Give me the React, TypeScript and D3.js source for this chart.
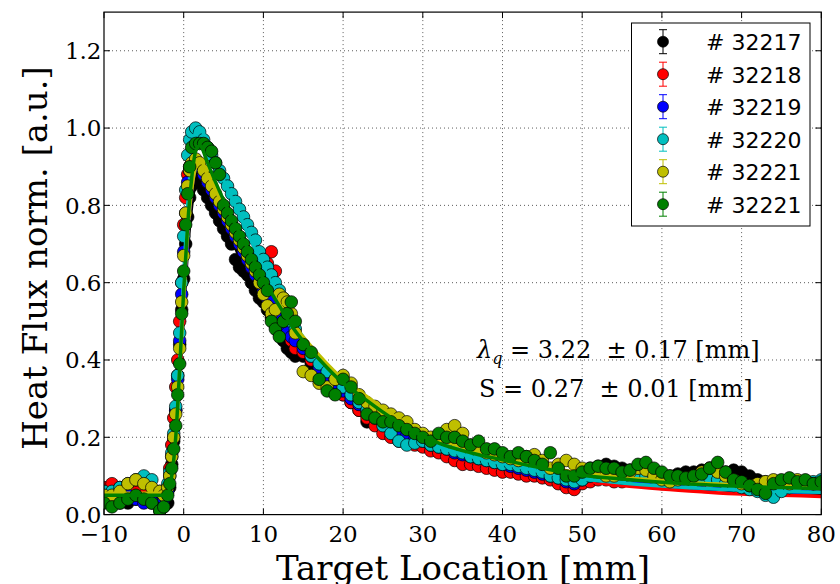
import React from 'react';
import * as d3 from 'd3';

const shotLabels = ['# 32217', '# 32218', '# 32219', '# 32220', '# 32221', '# 32221'];
const shotColors = ['#000000', '#ff0000', '#0000ff', '#00bfbf', '#bfbf00', '#008000'];

const xTicks = [-10, 0, 10, 20, 30, 40, 50, 60, 70, 80];
const yTicks = [0, 0.2, 0.4, 0.6, 0.8, 1.0, 1.2];

// measurement positions [mm]
const xs = [
  -10, -9, -8, -7, -6, -5, -4, -3,
  -2.5, -2, -1.75, -1.5, -1.25, -1, -0.75, -0.5, -0.25, 0, 0.25, 0.5, 0.75, 1,
  1.5, 2, 2.5, 3, 3.5, 4, 4.5, 5, 5.5, 6, 6.5, 7, 7.5, 8, 8.5, 9, 9.5, 10, 10.5, 11, 11.5, 12, 12.5, 13, 13.5, 14,
  15, 16, 17, 18, 19, 20, 21, 22, 23, 24, 25, 26, 27, 28, 29, 30, 31, 32, 33, 34,
  35, 36, 37, 38, 39, 40, 41, 42, 43, 44, 45, 46, 47, 48, 49, 50, 51, 52, 53, 54,
  55, 56, 57, 58, 59, 60, 61, 62, 63, 64, 65, 66, 67, 68, 69, 70, 71, 72, 73, 74,
  75, 76, 77, 78, 79, 80,
];

const y32217 = [
  0.04, 0.04, 0.03, 0.03, 0.04, 0.04, 0.03, 0.01,
  0.02, 0.03, 0.07, 0.13, 0.19, 0.27, 0.36, 0.44, 0.53, 0.61, 0.7, 0.77, 0.82, 0.85,
  0.86, 0.87, 0.84, 0.82, 0.8, 0.78, 0.76, 0.74, 0.72, 0.7, 0.66, 0.64, 0.63, 0.62, 0.6, 0.58, 0.56, 0.55, 0.53, 0.51, 0.49, 0.47, 0.45, 0.43, 0.42, 0.41,
  0.41, 0.39, 0.37, 0.35, 0.33, 0.31, 0.29, 0.27, 0.24, 0.24,
  0.23, 0.22, 0.21, 0.2, 0.195, 0.19, 0.185, 0.18, 0.175, 0.17,
  0.165, 0.16, 0.155, 0.15, 0.145, 0.14, 0.135, 0.13, 0.125, 0.12,
  0.115, 0.11, 0.1, 0.095, 0.095, 0.11, 0.12, 0.125, 0.13, 0.125,
  0.12, 0.115, 0.11, 0.11, 0.105, 0.1, 0.1, 0.105, 0.11, 0.11,
  0.115, 0.12, 0.115, 0.11, 0.115, 0.11, 0.1, 0.09, 0.085, 0.08,
  0.08, 0.085, 0.08, 0.08, 0.075, 0.075,
];

const y32218 = [
  0.07, 0.08, 0.07, 0.05, 0.06, 0.05, 0.05, 0.04,
  0.05, 0.07, 0.12, 0.18, 0.25, 0.33, 0.4, 0.5, 0.6, 0.75, 0.82, 0.88, 0.9, 0.91,
  0.9, 0.9, 0.88, 0.86, 0.84, 0.82, 0.8, 0.78, 0.76, 0.74, 0.72, 0.7, 0.68, 0.66, 0.64, 0.62, 0.6, 0.6, 0.65, 0.68, 0.63, 0.53, 0.5, 0.47, 0.45, 0.43,
  0.42, 0.4, 0.37, 0.35, 0.33, 0.31, 0.29, 0.27, 0.25, 0.23,
  0.21, 0.2, 0.19, 0.185, 0.18, 0.175, 0.165, 0.16, 0.15, 0.14,
  0.13, 0.13, 0.125, 0.12, 0.115, 0.11, 0.11, 0.105, 0.1, 0.1,
  0.095, 0.09, 0.08, 0.07, 0.065, 0.08, 0.085, 0.09, 0.09, 0.085,
  0.085, 0.09, 0.095, 0.09, 0.085, 0.08, 0.08, 0.085, 0.08, 0.08,
  0.085, 0.09, 0.085, 0.08, 0.075, 0.07, 0.07, 0.065, 0.065, 0.07,
  0.07, 0.075, 0.07, 0.07, 0.075, 0.07,
];

const y32219 = [
  0.05, 0.04, 0.04, 0.05, 0.04, 0.03, 0.04, 0.03,
  0.04, 0.06, 0.1, 0.15, 0.2, 0.27, 0.35, 0.45, 0.57, 0.68, 0.78, 0.86, 0.89, 0.91,
  0.91, 0.9, 0.88, 0.86, 0.84, 0.82, 0.8, 0.78, 0.76, 0.74, 0.72, 0.7, 0.68, 0.66, 0.64, 0.62, 0.6, 0.58, 0.56, 0.55, 0.53, 0.51, 0.49, 0.47, 0.46, 0.45,
  0.43, 0.41, 0.38, 0.36, 0.34, 0.32, 0.3, 0.285, 0.27, 0.255,
  0.24, 0.225, 0.215, 0.205, 0.195, 0.19, 0.18, 0.175, 0.17, 0.16,
  0.155, 0.15, 0.145, 0.14, 0.135, 0.13, 0.125, 0.12, 0.115, 0.11,
  0.105, 0.1, 0.095, 0.085, 0.08, 0.09, 0.1, 0.1, 0.105, 0.1,
  0.095, 0.1, 0.105, 0.1, 0.095, 0.09, 0.09, 0.09, 0.085, 0.09,
  0.09, 0.095, 0.09, 0.085, 0.08, 0.075, 0.07, 0.065, 0.06, 0.06,
  0.065, 0.07, 0.075, 0.075, 0.08, 0.08,
];

const y32220 = [
  0.06, 0.06, 0.07, 0.08, 0.09, 0.1, 0.09, 0.06,
  0.05, 0.08, 0.11, 0.16, 0.21, 0.28, 0.36, 0.47, 0.6, 0.72, 0.84, 0.93, 0.97, 0.99,
  1.0, 0.99, 0.97, 0.95, 0.93, 0.91, 0.89, 0.87, 0.85, 0.83, 0.81, 0.79, 0.77, 0.75, 0.73, 0.71, 0.68, 0.66, 0.64, 0.62, 0.6, 0.58, 0.56, 0.53, 0.5, 0.48,
  0.44, 0.41, 0.39, 0.37, 0.35, 0.33, 0.31, 0.29, 0.27, 0.25,
  0.23, 0.21, 0.19, 0.18, 0.185, 0.19, 0.18, 0.175, 0.17, 0.165,
  0.16, 0.15, 0.145, 0.14, 0.135, 0.13, 0.13, 0.125, 0.12, 0.115,
  0.11, 0.1, 0.095, 0.09, 0.085, 0.09, 0.1, 0.105, 0.1, 0.1,
  0.095, 0.1, 0.105, 0.1, 0.095, 0.09, 0.09, 0.095, 0.09, 0.085,
  0.09, 0.095, 0.09, 0.08, 0.075, 0.07, 0.065, 0.06, 0.05, 0.045,
  0.06, 0.07, 0.075, 0.08, 0.085, 0.09,
];

const y32221a = [
  0.05, 0.05, 0.06, 0.08, 0.09, 0.08, 0.07, 0.06,
  0.05, 0.07, 0.1, 0.15, 0.2, 0.26, 0.33, 0.43, 0.55, 0.67, 0.78, 0.85, 0.89, 0.91,
  0.92, 0.91, 0.89, 0.87, 0.85, 0.83, 0.81, 0.79, 0.77, 0.75, 0.73, 0.71, 0.69, 0.67, 0.65, 0.63, 0.6, 0.57, 0.54, 0.52, 0.53, 0.57, 0.56, 0.55, 0.52, 0.47,
  0.37, 0.36, 0.34, 0.33, 0.35, 0.36, 0.34, 0.31, 0.29, 0.28,
  0.27, 0.26, 0.25, 0.24, 0.22, 0.21, 0.2, 0.2, 0.22, 0.23,
  0.21, 0.18, 0.17, 0.16, 0.155, 0.15, 0.145, 0.14, 0.15, 0.155,
  0.14, 0.12, 0.13, 0.14, 0.13, 0.12, 0.115, 0.11, 0.1, 0.1,
  0.105, 0.11, 0.12, 0.115, 0.1, 0.09, 0.085, 0.09, 0.095, 0.1,
  0.11, 0.12, 0.11, 0.1, 0.09, 0.08, 0.075, 0.08, 0.085, 0.09,
  0.085, 0.08, 0.09, 0.085, 0.08, 0.08,
];

const y32221b = [
  0.03, 0.02, 0.03, 0.04, 0.05, 0.04, 0.03, 0.01,
  0.02, 0.05, 0.08, 0.12, 0.17, 0.23, 0.31, 0.39, 0.52, 0.63, 0.75, 0.83, 0.9, 0.95,
  0.96, 0.96, 0.96, 0.95, 0.94, 0.91, 0.88, 0.8, 0.78, 0.76, 0.74, 0.72, 0.7, 0.68, 0.66, 0.64, 0.62, 0.6, 0.58, 0.5, 0.48, 0.46, 0.5, 0.52, 0.55, 0.5,
  0.44, 0.42, 0.35, 0.32, 0.31, 0.35, 0.33, 0.3, 0.26, 0.25,
  0.24, 0.24, 0.23, 0.22, 0.21, 0.2, 0.19, 0.21, 0.2, 0.2,
  0.19, 0.18, 0.19, 0.17, 0.17, 0.16, 0.15, 0.16, 0.15, 0.14,
  0.13, 0.16, 0.12, 0.1, 0.1, 0.11, 0.12, 0.125, 0.12, 0.12,
  0.11, 0.115, 0.13, 0.135, 0.12, 0.11, 0.1, 0.1, 0.095, 0.1,
  0.105, 0.12, 0.135, 0.11, 0.09, 0.085, 0.075, 0.065, 0.055, 0.08,
  0.09, 0.095, 0.085, 0.09, 0.08, 0.085,
];

// fitted profiles
const fitX = [-10, -2.5, -2, -1.5, -1, -0.5, 0, 0.5, 1, 1.5, 2, 3, 4, 6, 8, 10, 12, 14, 16, 18, 20, 22, 25, 28, 32, 36, 40, 45, 50, 55, 60, 65, 70, 75, 80];
const fit32217 = [0.045, 0.045, 0.05, 0.09, 0.18, 0.34, 0.53, 0.69, 0.8, 0.86, 0.87, 0.83, 0.79, 0.71, 0.63, 0.56, 0.49, 0.44, 0.39, 0.35, 0.315, 0.285, 0.245, 0.21, 0.175, 0.15, 0.133, 0.112, 0.095, 0.083, 0.074, 0.067, 0.062, 0.058, 0.055];
const fit32218 = [0.05, 0.05, 0.055, 0.1, 0.2, 0.37, 0.56, 0.73, 0.84, 0.9, 0.91, 0.87, 0.83, 0.75, 0.67, 0.6, 0.53, 0.47, 0.415, 0.37, 0.33, 0.295, 0.252, 0.212, 0.172, 0.145, 0.127, 0.105, 0.088, 0.075, 0.066, 0.059, 0.053, 0.05, 0.047];
const fit32219 = [0.05, 0.05, 0.055, 0.1, 0.2, 0.37, 0.56, 0.72, 0.84, 0.9, 0.91, 0.87, 0.83, 0.75, 0.67, 0.595, 0.525, 0.465, 0.415, 0.37, 0.33, 0.3, 0.26, 0.22, 0.18, 0.155, 0.137, 0.115, 0.097, 0.085, 0.076, 0.069, 0.064, 0.06, 0.058];
const fit32220 = [0.05, 0.05, 0.055, 0.1, 0.21, 0.4, 0.62, 0.8, 0.93, 0.99, 1.0, 0.96, 0.91, 0.82, 0.73, 0.64, 0.56, 0.49, 0.43, 0.38, 0.335, 0.3, 0.255, 0.215, 0.175, 0.15, 0.132, 0.11, 0.093, 0.082, 0.074, 0.068, 0.063, 0.06, 0.058];
const fit32221a = [0.055, 0.055, 0.06, 0.1, 0.2, 0.37, 0.56, 0.73, 0.84, 0.9, 0.92, 0.88, 0.84, 0.76, 0.68, 0.61, 0.545, 0.485, 0.435, 0.39, 0.35, 0.32, 0.275, 0.235, 0.195, 0.168, 0.148, 0.125, 0.107, 0.096, 0.088, 0.081, 0.076, 0.072, 0.07];
const fit32221b = [0.05, 0.05, 0.055, 0.1, 0.2, 0.38, 0.58, 0.75, 0.87, 0.94, 0.955, 0.91, 0.86, 0.77, 0.69, 0.61, 0.54, 0.475, 0.425, 0.38, 0.34, 0.31, 0.265, 0.225, 0.185, 0.16, 0.142, 0.12, 0.102, 0.092, 0.084, 0.078, 0.073, 0.07, 0.067];

const seriesY = [y32217, y32218, y32219, y32220, y32221a, y32221b];
const seriesFit = [fit32217, fit32218, fit32219, fit32220, fit32221a, fit32221b];

const W = 840;
const H = 584;
const L = 104;
const R = 821.3;
const T = 12.1;
const B = 514.6;

const serif = '"DejaVu Serif", "Liberation Serif", serif';
const sans = '"DejaVu Sans", "Liberation Sans", sans-serif';

export default function App() {
  const x = d3.scaleLinear().domain([-10, 80]).range([L, R]);
  const y = d3.scaleLinear().domain([0, 1.3]).range([B, T]);

  const fitPath = (vals: number[]) =>
    d3
      .line<number>()
      .x((_, i) => x(fitX[i]))
      .y((v) => y(v))
      .curve(d3.curveMonotoneX)(vals) || '';

  const tickLen = 6;
  const legX0 = 631.5;
  const legY0 = 23;
  const legW = 178.5;
  const legH = 203;
  const rowY = (i: number) => 41.7 + i * 32.5;

  return (
    <svg
      width={W}
      height={H}
      viewBox={`0 0 ${W} ${H}`}
      style={{ position: 'absolute', left: 0, top: 0, background: '#fff' }}
    >
      <defs>
        <clipPath id="plotClip">
          <rect x={L} y={T} width={R - L} height={B - T} />
        </clipPath>
      </defs>
      <rect x={0} y={0} width={W} height={H} fill="#fff" />

      {/* grid */}
      <g stroke="#000" strokeWidth={0.8} strokeDasharray="1,3" opacity={0.8}>
        {xTicks
          .filter((t) => t > -10 && t < 80)
          .map((t) => (
            <line key={'gx' + t} x1={x(t)} x2={x(t)} y1={T} y2={B} />
          ))}
        {yTicks
          .filter((t) => t > 0)
          .map((t) => (
            <line key={'gy' + t} x1={L} x2={R} y1={y(t)} y2={y(t)} />
          ))}
      </g>

      {/* data */}
      <g clipPath="url(#plotClip)">
        {seriesY.map((ys, si) => (
          <g key={'s' + si}>
            {ys.map((v, i) => (
              <circle
                key={i}
                cx={x(xs[i])}
                cy={y(v)}
                r={6.3}
                fill={shotColors[si]}
                stroke="#000"
                strokeWidth={0.7}
              />
            ))}
            <path d={fitPath(seriesFit[si])} fill="none" stroke={shotColors[si]} strokeWidth={3.5} strokeLinejoin="round" />
          </g>
        ))}
      </g>

      {/* frame */}
      <rect x={L} y={T} width={R - L} height={B - T} fill="none" stroke="#000" strokeWidth={1.2} />

      {/* ticks */}
      <g stroke="#000" strokeWidth={1}>
        {xTicks.map((t) => (
          <g key={'tx' + t}>
            <line x1={x(t)} x2={x(t)} y1={B} y2={B - tickLen} />
            <line x1={x(t)} x2={x(t)} y1={T} y2={T + tickLen} />
          </g>
        ))}
        {yTicks.map((t) => (
          <g key={'ty' + t}>
            <line x1={L} x2={L + tickLen} y1={y(t)} y2={y(t)} />
            <line x1={R} x2={R - tickLen} y1={y(t)} y2={y(t)} />
          </g>
        ))}
      </g>

      {/* tick labels */}
      <g fontFamily={serif} fontSize={23} fill="#000">
        {xTicks.map((t) => (
          <text key={'lx' + t} x={x(t)} y={542} textAnchor="middle">
            {t < 0 ? '\u2212' + Math.abs(t) : String(t)}
          </text>
        ))}
        {yTicks.map((t) => (
          <text key={'ly' + t} x={101.5} y={y(t) + 8.3} textAnchor="end">
            {t.toFixed(1)}
          </text>
        ))}
      </g>

      {/* axis labels */}
      <text x={463} y={580} textAnchor="middle" fontFamily={serif} fontSize={34} fill="#000">
        Target Location [mm]
      </text>
      <text
        transform={`translate(47,258) rotate(-90)`}
        textAnchor="middle"
        fontFamily={serif}
        fontSize={34}
        fill="#000"
      >
        Heat Flux norm. [a.u.]
      </text>

      {/* annotation */}
      <text x={477} y={358} fontFamily={serif} fontSize={24} fill="#000" style={{ whiteSpace: 'pre' }}>
        <tspan fontStyle="italic">λ</tspan>
        <tspan fontStyle="italic" fontSize={16} dy={6}>q</tspan>
        <tspan dy={-6}>{' = 3.22  \u00b1 0.17 [mm]'}</tspan>
      </text>
      <text x={479} y={397} fontFamily={serif} fontSize={24} fill="#000" style={{ whiteSpace: 'pre' }}>
        {'S = 0.27  \u00b1 0.01 [mm]'}
      </text>

      {/* legend */}
      <rect x={legX0} y={legY0} width={legW} height={legH} fill="#fff" stroke="#000" strokeWidth={1} />
      {shotLabels.map((lab, i) => (
        <g key={'lg' + i}>
          <line x1={663} x2={663} y1={rowY(i) - 12} y2={rowY(i) + 12} stroke={shotColors[i]} strokeWidth={1} />
          <line x1={659} x2={667} y1={rowY(i) - 12} y2={rowY(i) - 12} stroke={shotColors[i]} strokeWidth={1} />
          <line x1={659} x2={667} y1={rowY(i) + 12} y2={rowY(i) + 12} stroke={shotColors[i]} strokeWidth={1} />
          <circle cx={663} cy={rowY(i)} r={5.5} fill={shotColors[i]} stroke="#000" strokeWidth={0.7} />
          <text x={706} y={rowY(i) + 8.3} fontFamily={sans} fontSize={22} fill="#000">
            {lab}
          </text>
        </g>
      ))}
    </svg>
  );
}
